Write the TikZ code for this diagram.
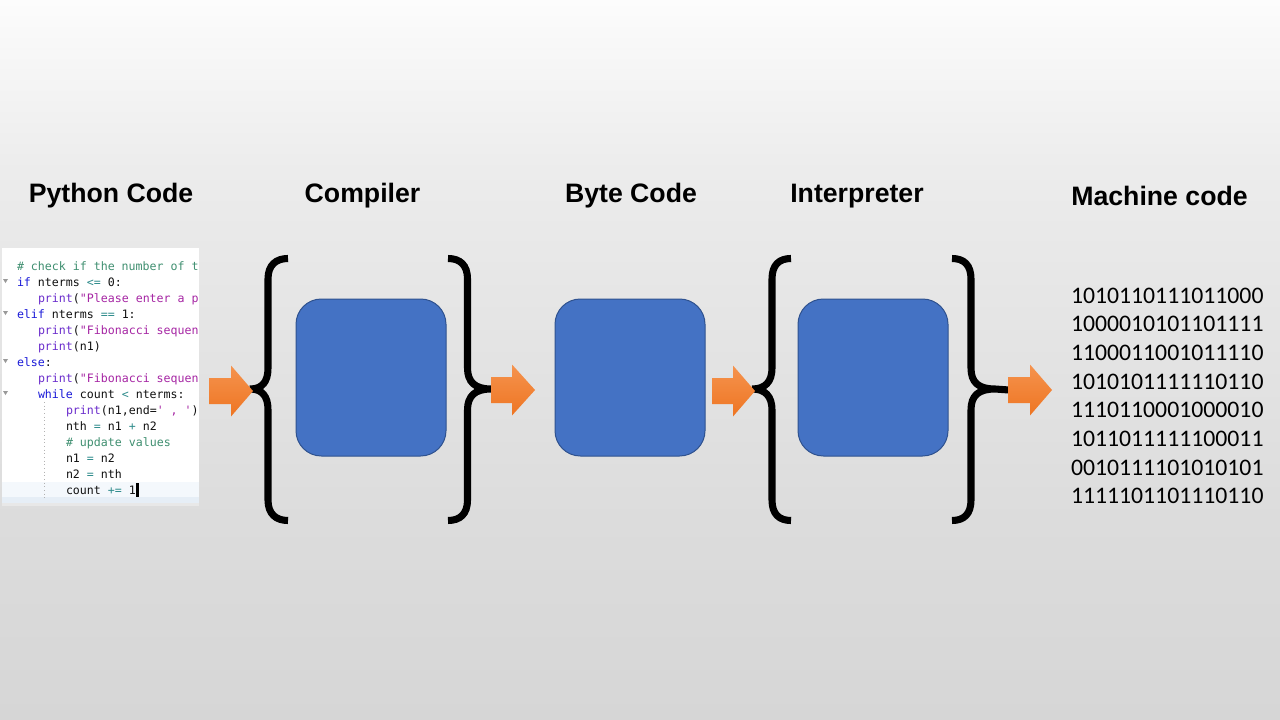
\documentclass[tikz,border=0pt]{standalone}
\usepackage{fontspec}
\setmainfont{Liberation Sans}
\setmonofont{DejaVu Sans Mono}
\newfontfamily\binfont{Carlito}
\definecolor{bgA}{HTML}{D6D6D6}
\definecolor{bgB}{HTML}{DCDCDC}
\definecolor{bgC}{HTML}{E8E8E8}
\definecolor{bgD}{HTML}{ECECEC}
\definecolor{bgE}{HTML}{FCFCFC}
\definecolor{boxfill}{HTML}{4472C4}
\definecolor{boxline}{HTML}{2F528F}
\definecolor{oTop}{HTML}{F5934E}
\definecolor{oBot}{HTML}{EE7522}
\definecolor{kwc}{HTML}{1A1AD8}
\definecolor{prc}{HTML}{6A2CCC}
\definecolor{stc}{HTML}{A626A4}
\definecolor{opc}{HTML}{2E8B8B}
\definecolor{cmc}{HTML}{3F8F70}
\definecolor{txc}{HTML}{101010}
\definecolor{curline}{HTML}{F4F8FC}
\definecolor{strip}{HTML}{E6EEF6}
\pgfdeclareverticalshading{bgshade}{100bp}{color(0bp)=(bgA); color(25bp)=(bgA); color(38.9bp)=(bgB); color(57.6bp)=(bgC); color(63.2bp)=(bgD); color(75bp)=(bgE); color(100bp)=(bgE)}
\newcommand\kw[1]{\textcolor{kwc}{#1}}
\newcommand\pr[1]{\textcolor{prc}{#1}}
\newcommand\st[1]{\textcolor{stc}{#1}}
\newcommand\op[1]{\textcolor{opc}{#1}}
\newcommand\cm[1]{\textcolor{cmc}{#1}}
\newcommand\blockarrow[4]{%
  \shade[top color=oTop, bottom color=oBot]
    (#1,#4-13) -- (#2,#4-13) -- (#2,#4-25.5) -- (#3,#4) -- (#2,#4+25.5) -- (#2,#4+13) -- (#1,#4+13) -- cycle;}
\begin{document}
\begin{tikzpicture}[x=0.75pt,y=-0.75pt,
  every node/.style={inner sep=0pt, outer sep=0pt},
  heading/.style={font=\bfseries\fontsize{20}{24}\selectfont, anchor=base, text=black},
  codeline/.style={font=\ttfamily\fontsize{8.7}{10}\selectfont, anchor=base west, text=txc},
  binline/.style={font=\binfont\fontsize{17.8}{21}\selectfont, anchor=base west, text=black},
  bluebox/.style={draw=boxline, line width=0.75pt, fill=boxfill, rounded corners=19pt},
  bracestroke/.style={draw=black, line width=5.3pt, line cap=butt}]
\useasboundingbox (0,0) rectangle (1280,720);
\shade[shading=bgshade] (0,0) rectangle (1280,720);

% headings
\node[heading] (t1) at (111,203) {Python Code};
\node[heading] (t2) at (362.5,203) {Compiler};
\node[heading] (t3) at (631,203) {Byte Code};
\node[heading] (t4) at (857,203) {Interpreter};
\node[heading] (t5) at (1159.5,206) {Machine code};

% code image
\fill[white] (2,248) rectangle (199,506);
\fill[curline] (2,482) rectangle (199,497);
\fill[strip] (2,497) rectangle (199,503);
\fill[bgC] (2,503) rectangle (199,506);
\begin{scope}
\clip (2,248) rectangle (199,506);
\node[codeline] (c1) at (17,270) {\cm{\# check if the number of t}};
\node[codeline] (c2) at (17,286) {\kw{if} nterms \op{<=} 0:};
\node[codeline] (c3) at (38,302) {\pr{print}(\st{"Please enter a p}};
\node[codeline] (c4) at (17,318) {\kw{elif} nterms \op{==} 1:};
\node[codeline] (c5) at (38,334) {\pr{print}(\st{"Fibonacci sequen}};
\node[codeline] (c6) at (38,350) {\pr{print}(n1)};
\node[codeline] (c7) at (17,366) {\kw{else}:};
\node[codeline] (c8) at (38,382) {\pr{print}(\st{"Fibonacci sequen}};
\node[codeline] (c9) at (38,398) {\kw{while} count \op{<} nterms:};
\node[codeline] (c10) at (66,414) {\pr{print}(n1,end=\st{' , '})};
\node[codeline] (c11) at (66,430) {nth \op{=} n1 \op{+} n2};
\node[codeline] (c12) at (66,446) {\cm{\# update values}};
\node[codeline] (c13) at (66,462) {n1 \op{=} n2};
\node[codeline] (c14) at (66,478) {n2 \op{=} nth};
\node[codeline] (c15) at (66,494) {count \op{+=} 1};
\end{scope}
\fill[black] (136,483) rectangle (138.5,497);
\foreach \yy in {281,313,361,393}
  \fill[gray!80] (3,\yy-2) -- (8,\yy-2) -- (5.5,\yy+2) -- cycle;
\draw[gray!60, line width=0.75pt, dotted] (44,402) -- (44,500);

% blue boxes
\draw[bluebox] (296,299) rectangle (446,456);
\node (b1) at (371,377.5) {};
\draw[bluebox] (555,299) rectangle (705,456);
\node (b2) at (630,377.5) {};
\draw[bluebox] (798,299) rectangle (948,456);
\node (b3) at (873,377.5) {};

% braces
\draw[bracestroke] (288,258.5) .. controls (276,258.5) and (268,265) .. (268,279)
  -- (268,368) .. controls (268,382) and (262,389) .. (250,389)
  .. controls (262,389) and (268,396) .. (268,410)
  -- (268,500) .. controls (268,514) and (276,520.5) .. (288,520.5);
\draw[bracestroke] (448,258.5) .. controls (460,258.5) and (467.5,265) .. (467.5,279)
  -- (467.5,368) .. controls (467.5,382) and (475,389) .. (491,389)
  .. controls (475,389) and (467.5,396) .. (467.5,410)
  -- (467.5,500) .. controls (467.5,514) and (460,520.5) .. (448,520.5);
\draw[bracestroke] (791,258.5) .. controls (779,258.5) and (772,265) .. (772,279)
  -- (772,368) .. controls (772,382) and (765,389) .. (752,389)
  .. controls (765,389) and (772,396) .. (772,410)
  -- (772,500) .. controls (772,514) and (779,520.5) .. (791,520.5);
\draw[bracestroke] (952,258.5) .. controls (964,258.5) and (971,265) .. (971,279)
  -- (971,368) .. controls (971,382) and (978,389) .. (995,389) -- (1009,390)
  (995,389) .. controls (978,389) and (971,396) .. (971,410)
  -- (971,500) .. controls (971,514) and (964,520.5) .. (952,520.5);

% orange arrows
\blockarrow{209}{231}{253}{391}
\blockarrow{491}{512}{535}{390}
\blockarrow{712}{733}{755}{391}
\blockarrow{1008}{1030}{1052}{390}

% machine code
\node[binline] (m1) at (1071,303) {1010110111011000};
\node[binline] (m2) at (1071,331.7) {1000010101101111};
\node[binline] (m3) at (1071,360.4) {1100011001011110};
\node[binline] (m4) at (1071,389.1) {1010101111110110};
\node[binline] (m5) at (1071,417.8) {1110110001000010};
\node[binline] (m6) at (1071,446.5) {1011011111100011};
\node[binline] (m7) at (1071,475.2) {0010111101010101};
\node[binline] (m8) at (1071,503.9) {1111101101110110};
\end{tikzpicture}
\end{document}
